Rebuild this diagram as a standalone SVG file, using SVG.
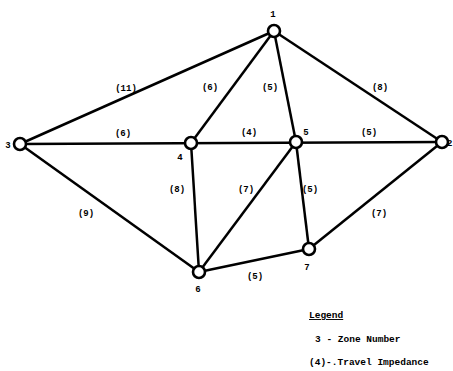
<svg xmlns="http://www.w3.org/2000/svg" width="453" height="371" viewBox="0 0 453 371">
<style>
.e{stroke:#000;stroke-width:2.5;fill:none}
.n{fill:#fff;stroke:#000;stroke-width:2.6}
text{font-family:"Liberation Mono",monospace;font-weight:bold;font-size:9px;fill:#000}
.l{text-anchor:middle}
.g{font-size:9.5px}
</style>
<rect width="453" height="371" fill="#fff"/>
<g id="connectors">
<line class="e" x1="274" y1="31" x2="20" y2="144"/>
<line class="e" x1="274" y1="31" x2="191" y2="143"/>
<line class="e" x1="274" y1="31" x2="296" y2="142"/>
<line class="e" x1="274" y1="31" x2="442" y2="142"/>
<line class="e" x1="20" y1="144" x2="442" y2="142"/>
<line class="e" x1="20" y1="144" x2="199" y2="272"/>
<line class="e" x1="191" y1="143" x2="199" y2="272"/>
<line class="e" x1="296" y1="142" x2="199" y2="272"/>
<line class="e" x1="296" y1="142" x2="309" y2="249"/>
<line class="e" x1="442" y1="142" x2="309" y2="249"/>
<line class="e" x1="199" y1="272" x2="309" y2="249"/>
<text class="l" x="126" y="91">(11)</text>
<text class="l" x="210" y="90">(6)</text>
<text class="l" x="270" y="90">(5)</text>
<text class="l" x="380" y="90">(8)</text>
<text class="l" x="123" y="136">(6)</text>
<text class="l" x="249" y="135">(4)</text>
<text class="l" x="369" y="135">(5)</text>
<text class="l" x="177" y="192">(8)</text>
<text class="l" x="246" y="192">(7)</text>
<text class="l" x="310" y="192">(5)</text>
<text class="l" x="86" y="216">(9)</text>
<text class="l" x="379" y="216">(7)</text>
<text class="l" x="255" y="279">(5)</text>
</g>
<g id="node1"><circle class="n" cx="274" cy="31" r="6"/><text class="l" x="273" y="17">1</text></g>
<g id="node2"><circle class="n" cx="442" cy="142" r="6"/><text x="447" y="146" font-size="8">2</text></g>
<g id="node3"><circle class="n" cx="20" cy="144" r="6"/><text class="l" x="8" y="148">3</text></g>
<g id="node4"><circle class="n" cx="191" cy="143" r="6"/><text class="l" x="180" y="160">4</text></g>
<g id="node5"><circle class="n" cx="296" cy="142" r="6"/><text class="l" x="306" y="135">5</text></g>
<g id="node6"><circle class="n" cx="199" cy="272" r="6"/><text class="l" x="198" y="292">6</text></g>
<g id="node7"><circle class="n" cx="309" cy="249" r="6"/><text class="l" x="307" y="270">7</text></g>
<g id="legend">
<text class="g" x="309" y="318" text-decoration="underline">Legend</text>
<text class="g" x="315" y="342">3 - Zone Number</text>
<text class="g" x="309" y="365">(4)-.Travel Impedance</text>
</g>
</svg>
